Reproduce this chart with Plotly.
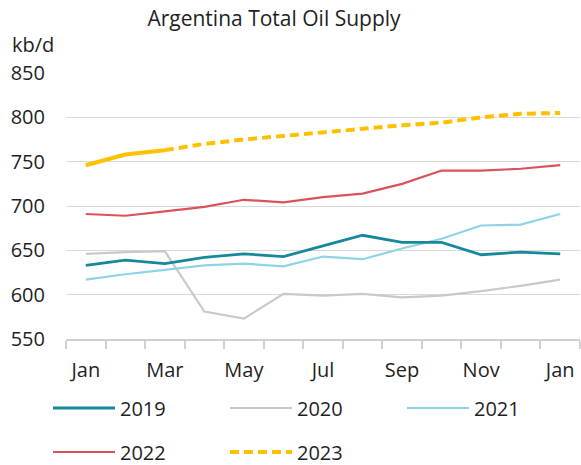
import plotly.graph_objects as go

# Monthly Argentina total oil supply, kb/d (Jan through following Jan)
months = ["Jan", "Feb", "Mar", "Apr", "May", "Jun", "Jul",
          "Aug", "Sep", "Oct", "Nov", "Dec", "Jan"]
x_idx = list(range(len(months)))

s2019 = [633, 639, 635, 642, 646, 643, 655, 667, 659, 659, 645, 648, 646]
s2020 = [646, 648, 649, 581, 573, 601, 599, 601, 597, 599, 604, 610, 617]
s2021 = [617, 623, 628, 633, 635, 632, 643, 640, 652, 663, 678, 679, 691]
s2022 = [691, 689, 694, 699, 707, 704, 710, 714, 725, 740, 740, 742, 746]
s2023 = [746, 758, 763, 770, 775, 779, 784, 788, 791, 794, 800, 804, 805]
n_actual_2023 = 3  # Jan-Mar reported, remainder forecast

col = {
    "2019": "#16889c",
    "2020": "#c9c9c9",
    "2021": "#8fd3e6",
    "2022": "#d9525c",
    "2023": "#ffc000",
}
FONT = "Open Sans"
TXT = "#1f1f1f"

fig = go.Figure()

def add(name, ys, width, legend, dash="solid", xs=None, show=True):
    fig.add_trace(go.Scatter(
        x=xs if xs is not None else x_idx, y=ys, mode="lines", name=name,
        line=dict(color=col[name], width=width, dash=dash),
        legend=legend, showlegend=show,
    ))

add("2020", s2020, 2.2, "legend")
add("2021", s2021, 2.2, "legend")
add("2019", s2019, 2.8, "legend")
add("2022", s2022, 2.2, "legend2")
# 2023: solid for actuals, dashed for forecast
add("2023", s2023[:n_actual_2023], 4, "legend2", show=False,
    xs=x_idx[:n_actual_2023])
add("2023", s2023[n_actual_2023 - 1:], 4, "legend2", dash="9px,5px",
    xs=x_idx[n_actual_2023 - 1:])

# legend order: 2019, 2020, 2021
fig.data[0].legendrank = 2
fig.data[1].legendrank = 3
fig.data[2].legendrank = 1

legend_common = dict(
    orientation="h", xanchor="left", yanchor="middle",
    font=dict(family=FONT, size=20, color=TXT),
    itemwidth=62, entrywidth=100, entrywidthmode="pixels",
    bgcolor="rgba(0,0,0,0)", traceorder="normal",
    itemclick=False, itemdoubleclick=False,
)

W, H = 581, 465
ML, MR, MT, MB = 66, 1, 73, 126
PW, PH = W - ML - MR, H - MT - MB

def px_x(px):
    return (px - ML) / PW

def px_y(py):
    return (H - MB - py) / PH

fig.update_layout(
    width=W, height=H,
    margin=dict(l=ML, r=MR, t=MT, b=MB, autoexpand=False),
    paper_bgcolor="white", plot_bgcolor="white",
    title=dict(text="Argentina Total Oil Supply", x=274 / W, xref="container",
               xanchor="center", y=1 - 19 / H, yref="container", yanchor="middle",
               font=dict(family=FONT, size=21, color=TXT)),
    font=dict(family=FONT, size=20, color=TXT),
    xaxis=dict(
        range=[-0.5, 12.5], showgrid=False, zeroline=False,
        showline=True, linecolor="#d0d0d0", linewidth=1.5,
        tickmode="array", tickvals=x_idx[::2], ticktext=months[::2],
        ticks="outside", ticklen=8, tickcolor="rgba(0,0,0,0)",
        ticklabelstandoff=4,
        minor=dict(ticks="outside", tickmode="linear", tick0=-0.5, dtick=1,
                   ticklen=8, tickcolor="#d0d0d0", tickwidth=1.5, showgrid=False),
        tickfont=dict(family=FONT, size=20, color=TXT),
    ),
    yaxis=dict(
        range=[550, 850], dtick=50, tick0=550, showgrid=True,
        gridcolor="#d9d9d9", gridwidth=1.3, zeroline=False, showline=False,
        ticks="", ticklabelstandoff=20,
        tickfont=dict(family=FONT, size=20, color=TXT),
    ),
    legend=dict(x=px_x(48), y=px_y(408), **legend_common),
    legend2=dict(x=px_x(48), y=px_y(452), **legend_common),
    annotations=[dict(
        text="kb/d", x=px_x(10), y=px_y(45), xref="paper", yref="paper",
        xanchor="left", yanchor="middle", showarrow=False,
        font=dict(family=FONT, size=20, color=TXT),
    )],
)

fig.write_html("out.html")
